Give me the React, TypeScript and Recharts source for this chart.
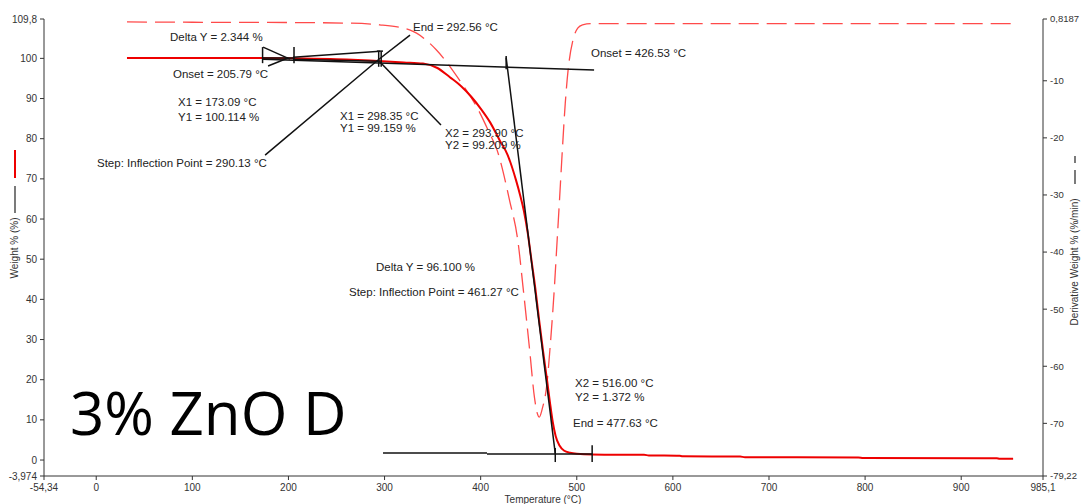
import {
  ComposedChart,
  Line,
  XAxis,
  YAxis,
  ReferenceLine,
} from 'recharts';

// weight % curve (solid red, left axis)
const weightTemp = [
  32, 100, 173, 206, 250, 298, 320, 340, 355, 368, 380, 390, 400, 410, 420, 428,
  437, 441, 445, 449, 453, 457, 461, 465, 469, 472, 475, 478, 482, 487, 493, 500,
  516, 570, 575, 607, 610, 670, 675, 793, 798, 937, 940, 954,
];
const weightPct = [
  100.1, 100.1, 100.11, 100.0, 99.8, 99.3, 99.0, 98.7, 97.6, 95.3, 93.0, 90.5,
  87.5, 84.0, 79.5, 76.0, 69.5, 66.0, 62.0, 56.5, 49.5, 42.5, 34.5, 27.0, 20.0,
  14.5, 9.5, 6.0, 3.6, 2.3, 1.8, 1.55, 1.37, 1.3, 1.15, 1.05, 0.95, 0.85, 0.72,
  0.65, 0.5, 0.42, 0.3, 0.3,
];

// derivative weight curve (dashed red, right axis)
const derivTemp = [
  32, 100, 200, 260, 295, 326, 354, 378, 396, 409, 417, 430, 439, 444, 451, 456,
  459, 461, 464, 469, 472, 477, 479, 482, 485, 488, 491, 496, 501, 506, 515, 600,
  800, 956,
];
const derivRate = [
  0.3, 0.25, 0.2, 0.1, -0.2, -1.1, -4.6, -9.9, -14.6, -19.1, -22.1, -30.9, -38.4,
  -46, -57.2, -65.5, -68.3, -68.9, -67.5, -63, -57.2, -45.4, -39.6, -31, -22.1,
  -14, -8.1, -2.9, -0.8, -0.2, 0, 0, 0, 0,
];

// analysis marks: tangents, ticks and pointers (temperature, weight %)
const markSegments: [number, number, number, number][] = [
  [173.09, 100.114, 205.79, 100.114],
  [173.09, 102.8, 173.09, 98.8],
  [205.79, 102.8, 205.79, 98.8],
  [173.6, 102.8, 201.6, 99.8],
  [178.8, 98.1, 199.5, 100.1],
  [204.7, 100.3, 295.3, 101.8],
  [173.6, 99.8, 518, 97.1],
  [204.7, 99.8, 293.2, 99.3],
  [293.9, 101.8, 293.9, 97.9],
  [296.5, 101.8, 296.5, 97.9],
  [292, 101.8, 298.35, 101.8],
  [293.2, 99.6, 326.5, 105.8],
  [293.2, 99.6, 175.7, 75.9],
  [293.2, 99.6, 358.7, 83.4],
  [426.53, 100.6, 426.53, 97.3],
  [426.53, 100.2, 477.63, 1.6],
  [298.4, 1.75, 406.6, 1.75],
  [406.6, 1.5, 516.0, 1.5],
  [477.63, 3.0, 477.63, -0.5],
  [516.0, 3.7, 516.0, -0.5],
];

const xTicks = [-54.34, 0, 100, 200, 300, 400, 500, 600, 700, 800, 900, 985.1];
const weightTicks = [-3.974, 0, 10, 20, 30, 40, 50, 60, 70, 80, 90, 100, 109.8];
const derivTicks = [-79.22, -70, -60, -50, -40, -30, -20, -10, 0.8187];

const weightData = weightTemp.map((t, i) => ({ t, w: weightPct[i] }));
const derivData = derivTemp.map((t, i) => ({ t, d: derivRate[i] }));

const comma = (v: number) => String(v).replace('.', ',');
const tickStyle = { fontFamily: 'Liberation Sans', fontSize: 10, fill: '#333' };
const note = { fontFamily: 'Liberation Sans', fontSize: 11.5, fill: '#222' };

export default function App() {
  return (
    <div style={{ position: 'absolute', left: 0, top: 0, width: 1081, height: 504 }}>
      <ComposedChart
        width={1081}
        height={504}
        margin={{ top: 19, right: 0, bottom: 0, left: 0 }}
      >
        <XAxis
          type='number'
          dataKey='t'
          domain={[-54.34, 985.1]}
          ticks={xTicks}
          interval={0}
          tickFormatter={comma}
          height={28}
          tickSize={4}
          tickMargin={4}
          tick={tickStyle}
          stroke='#333'
          allowDataOverflow
        />
        <YAxis
          yAxisId='w'
          domain={[-3.974, 109.8]}
          ticks={weightTicks}
          interval={0}
          tickFormatter={comma}
          width={44}
          tickSize={4}
          tickMargin={3}
          tick={tickStyle}
          stroke='#333'
          allowDataOverflow
        />
        <YAxis
          yAxisId='d'
          orientation='right'
          domain={[-79.22, 0.8187]}
          ticks={derivTicks}
          interval={0}
          tickFormatter={comma}
          width={38}
          tickSize={4}
          tickMargin={3}
          tick={{ ...tickStyle, fontSize: 9.5 }}
          stroke='#333'
          allowDataOverflow
        />
        <Line
          yAxisId='d'
          data={derivData}
          dataKey='d'
          type='monotone'
          stroke='#ff4a4a'
          strokeWidth={1.3}
          strokeDasharray='20 8'
          dot={false}
          isAnimationActive={false}
        />
        <Line
          yAxisId='w'
          data={weightData}
          dataKey='w'
          type='monotone'
          stroke='#ee0000'
          strokeWidth={2}
          dot={false}
          isAnimationActive={false}
        />
        {markSegments.map(([x1, y1, x2, y2], i) => (
          <ReferenceLine
            key={i}
            yAxisId='w'
            segment={[
              { x: x1, y: y1 },
              { x: x2, y: y2 },
            ]}
            stroke='#111'
            strokeWidth={1.5}
            ifOverflow='visible'
          />
        ))}
      </ComposedChart>
      <svg
        width={1081}
        height={504}
        style={{ position: 'absolute', left: 0, top: 0, pointerEvents: 'none' }}
      >
        <text x={170} y={41} {...note}>Delta Y = 2.344 %</text>
        <text x={173} y={78} {...note}>Onset = 205.79 °C</text>
        <text x={178} y={106} {...note}>X1 = 173.09 °C</text>
        <text x={178} y={121} {...note}>Y1 = 100.114 %</text>
        <text x={97} y={167} {...note}>Step: Inflection Point = 290.13 °C</text>
        <text x={413} y={31} {...note}>End = 292.56 °C</text>
        <text x={340} y={120} {...note}>X1 = 298.35 °C</text>
        <text x={340} y={132} {...note}>Y1 = 99.159 %</text>
        <text x={445} y={137} {...note}>X2 = 293.90 °C</text>
        <text x={445} y={149} {...note}>Y2 = 99.209 %</text>
        <text x={591} y={57} {...note}>Onset = 426.53 °C</text>
        <text x={376} y={271} {...note}>Delta Y = 96.100 %</text>
        <text x={349} y={296} {...note}>Step: Inflection Point = 461.27 °C</text>
        <text x={575} y={387} {...note}>X2 = 516.00 °C</text>
        <text x={575} y={401} {...note}>Y2 = 1.372 %</text>
        <text x={573} y={427} {...note}>End = 477.63 °C</text>

        <text x={70} y={435} fontFamily='Open Sans' fontSize={60} fill='#000'>
          3% ZnO D
        </text>

        <text x={543} y={503} textAnchor='middle' {...tickStyle}>
          Temperature (°C)
        </text>
        <text
          transform='translate(18 248) rotate(-90)'
          textAnchor='middle'
          {...tickStyle}
        >
          Weight % (%)
        </text>
        <line x1={15} y1={150} x2={15} y2={178} stroke='#ee0000' strokeWidth={2} />
        <line x1={15} y1={186} x2={15} y2={213} stroke='#333' strokeWidth={1.3} />
        <text
          transform='translate(1078 262) rotate(-90)'
          textAnchor='middle'
          {...tickStyle}
        >
          Derivative Weight % (%/min)
        </text>
        <line x1={1075} y1={170} x2={1075} y2={184} stroke='#333' strokeWidth={1.3} />
        <line x1={1075} y1={156} x2={1075} y2={163} stroke='#333' strokeWidth={1.3} />
      </svg>
    </div>
  );
}
